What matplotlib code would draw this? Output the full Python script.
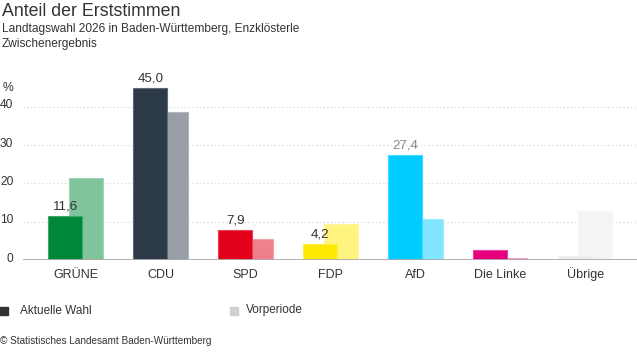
import matplotlib
matplotlib.use("Agg")
import matplotlib.pyplot as plt
import matplotlib.transforms as mtrans
from matplotlib.colors import to_rgb

plt.rcParams['font.family'] = ['Liberation Sans', 'DejaVu Sans']

parties = ["GRÜNE", "CDU", "SPD", "FDP", "AfD", "Die Linke", "Übrige"]
current = [11.6, 45.0, 7.9, 4.2, 27.4, 2.6, 1.0]
previous = [21.5, 38.7, 5.6, 9.3, 10.6, 0.4, 12.8]
value_labels = ["11,6", "45,0", "7,9", "4,2", "27,4", None, None]
label_colors = ["#333333", "#333333", "#333333", "#333333", "#888888", "#333333", "#333333"]
col_current = ["#00883a", "#2c3a48", "#e3001b", "#ffe900", "#00ccff", "#e6007e", "#ebebeb"]
col_previous = ["#80c49c", "#989fa6", "#f1808d", "#fff480", "#80e6ff", "#f280be", "#f4f4f4"]
yticks = [0, 10, 20, 30, 40]

W, H = 637, 352
fig = plt.figure(figsize=(W / 100, H / 100), dpi=100)

def fx(px):
    return px / W

def fy(py):
    return 1 - py / H

ax_left, ax_right, ax_bottom, ax_top = 23, 637, 260, 80
ax = fig.add_axes([fx(ax_left), fy(ax_bottom), fx(ax_right - ax_left), (ax_bottom - ax_top) / H])
ax.set_xlim(-0.62, 6.61)
ax.set_ylim(0, (ax_bottom - ax_top) / 3.83)

def lighten(c, f=0.25):
    r, g, b = to_rgb(c)
    return (r + (1 - r) * f, g + (1 - g) * f, b + (1 - b) * f)

w = 0.40
d = 0.12
x = list(range(len(parties)))
for i in x:
    ax.bar(i + d, previous[i], width=w, color=col_previous[i],
           edgecolor=lighten(col_previous[i]), linewidth=0.8, zorder=2)
    ax.bar(i - d, current[i], width=w, color=col_current[i],
           edgecolor=lighten(col_current[i]), linewidth=0.8, zorder=3)
    if value_labels[i]:
        ax.text(i - d, current[i] + 0.8, value_labels[i], ha='center', va='bottom',
                fontsize=9.6, color=label_colors[i], zorder=4)

for yv in yticks[1:]:
    ax.axhline(yv, color="#d9d9d9", lw=0.9, ls=(0, (1, 2)), zorder=1)
ax.axhline(0, color="#aaaaaa", lw=2, zorder=5)

for s in ax.spines.values():
    s.set_visible(False)
ax.set_xticks([])
base_tr = mtrans.blended_transform_factory(ax.transData, fig.transFigure)
for i in x:
    ax.text(i, fy(278), parties[i], transform=base_tr, ha='center', va='baseline',
            fontsize=9, color="#333333", clip_on=False)
ax.set_yticks(yticks)
ax.set_yticklabels([str(v) for v in yticks], fontsize=8.6, color="#333333")
ax.tick_params(axis='y', length=0, pad=7)
offset = mtrans.ScaledTranslation(0, 3 / 100, fig.dpi_scale_trans)
for lab in ax.get_yticklabels():
    lab.set_transform(lab.get_transform() + offset)

fig.text(fx(3), fy(88), "%", fontsize=8.8, color="#333333", ha='left', va='center')

fig.text(fx(2), fy(12), "Anteil der Erststimmen", fontsize=12.8, color="#333333", ha='left', va='center')
fig.text(fx(2), fy(29), "Landtagswahl 2026 in Baden-Württemberg, Enzklösterle", fontsize=8.6, color="#333333", ha='left', va='center')
fig.text(fx(2), fy(44), "Zwischenergebnis", fontsize=8.6, color="#333333", ha='left', va='center')

# legend
fig.patches.append(plt.Rectangle((fx(-1), fy(315)), fx(9), 8 / H, transform=fig.transFigure,
                                 color="#333333", figure=fig))
fig.text(fx(20), fy(310.5), "Aktuelle Wahl", fontsize=8.5, color="#333333", ha='left', va='center')
fig.patches.append(plt.Rectangle((fx(230), fy(315)), fx(8), 8 / H, transform=fig.transFigure,
                                 color="#d0d0d0", figure=fig))
fig.text(fx(246), fy(310.5), "Vorperiode", fontsize=8.5, color="#333333", ha='left', va='center')

fig.text(fx(0), fy(341), "© Statistisches Landesamt Baden-Württemberg", fontsize=7.2, color="#333333",
         ha='left', va='center')

fig.savefig("out.png", dpi=100)
